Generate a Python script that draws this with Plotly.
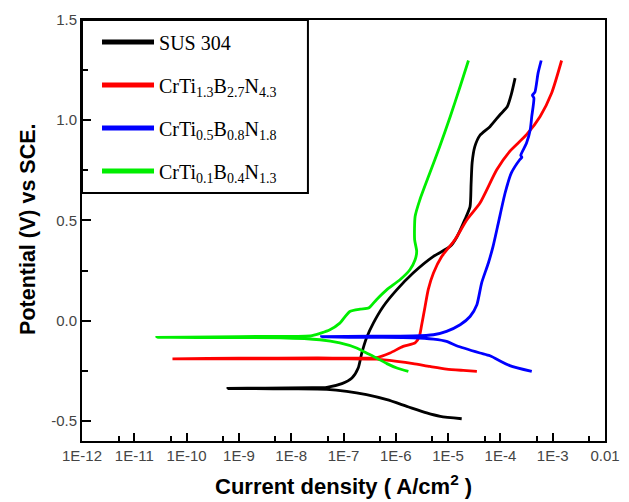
import plotly.graph_objects as go

# ---- data (current density A/cm2, potential V vs SCE), cathodic end -> Ecorr tip -> anodic end
sus_i = [1.82e-5, 7.08e-6, 3.89e-6, 1.62e-6, 6.76e-7, 2.75e-7, 1.15e-7, 4.79e-8, 1.0e-8, 2.0e-9, 6.17e-10,
         3.16e-9, 2.51e-8, 4.79e-8, 9.33e-8, 1.45e-7, 1.91e-7, 2.24e-7, 2.75e-7, 3.72e-7, 5.75e-7, 1.05e-6,
         2.14e-6, 5.25e-6, 1.10e-5, 1.48e-5, 2.09e-5, 2.63e-5, 2.75e-5, 2.88e-5, 3.24e-5, 4.07e-5, 6.31e-5,
         1.00e-4, 1.35e-4, 1.62e-4, 1.91e-4]
sus_v = [-0.489, -0.477, -0.460, -0.427, -0.394, -0.369, -0.352, -0.342, -0.340, -0.339, -0.338,
         -0.336, -0.334, -0.332, -0.314, -0.286, -0.236, -0.161, -0.086, -0.012, 0.071, 0.155,
         0.238, 0.321, 0.371, 0.419, 0.504, 0.569, 0.680, 0.788, 0.868, 0.925, 0.968,
         1.030, 1.067, 1.130, 1.210]

r_i = [3.55e-5, 1.95e-5, 9.33e-6, 4.47e-6, 2.14e-6, 1.05e-6, 4.27e-7, 1.0e-7, 1.0e-8, 6.31e-10, 5.37e-11,
       1.0e-9, 3.16e-8, 4.27e-7, 7.76e-7, 1.38e-6, 2.34e-6, 2.82e-6, 3.09e-6, 3.63e-6, 4.17e-6, 5.25e-6,
       7.59e-6, 1.35e-5, 2.29e-5, 4.07e-5, 8.51e-5, 1.51e-4, 3.16e-4, 5.75e-4, 9.55e-4, 1.48e-3]
r_v = [-0.253, -0.248, -0.241, -0.228, -0.214, -0.203, -0.192, -0.190, -0.190, -0.190, -0.190,
       -0.187, -0.186, -0.184, -0.161, -0.128, -0.111, -0.078, -0.028, 0.071, 0.155, 0.238,
       0.321, 0.404, 0.504, 0.587, 0.753, 0.845, 0.928, 1.019, 1.136, 1.298]

b_i = [3.98e-4, 1.51e-4, 6.31e-5, 4.07e-5, 1.45e-5, 9.33e-6, 5.25e-6, 2.14e-6, 3.16e-7, 3.80e-8,
       3.16e-7, 2.14e-6, 5.25e-6, 9.33e-6, 1.70e-5, 2.63e-5, 3.55e-5, 4.37e-5, 5.89e-5, 7.24e-5,
       9.12e-5, 1.23e-4, 1.62e-4, 2.34e-4, 2.57e-4, 2.45e-4, 3.16e-4, 3.72e-4, 3.98e-4, 4.37e-4,
       4.10e-4, 4.57e-4, 5.25e-4, 6.03e-4]
b_v = [-0.253, -0.224, -0.175, -0.161, -0.125, -0.103, -0.092, -0.085, -0.083, -0.080,
       -0.077, -0.076, -0.070, -0.053, -0.020, 0.021, 0.080, 0.188, 0.288, 0.371,
       0.487, 0.637, 0.737, 0.803, 0.815, 0.825, 0.886, 0.953, 1.019, 1.111,
       1.125, 1.140, 1.235, 1.298]

g_i = [1.74e-6, 1.05e-6, 6.76e-7, 4.27e-7, 2.75e-7, 1.78e-7, 8.51e-8, 3.55e-8, 6.31e-9, 3.16e-10, 2.69e-11,
       3.16e-10, 3.16e-9, 2.51e-8, 5.50e-8, 8.51e-8, 1.32e-7, 2.09e-7, 3.02e-7, 4.27e-7, 6.76e-7, 1.20e-6,
       1.86e-6, 2.34e-6, 2.51e-6, 2.29e-6, 2.34e-6, 2.88e-6, 4.47e-6, 6.92e-6, 1.10e-5, 1.70e-5, 2.45e-5]
g_v = [-0.253, -0.236, -0.214, -0.186, -0.161, -0.136, -0.111, -0.095, -0.085, -0.084, -0.083,
       -0.081, -0.078, -0.074, -0.045, -0.012, 0.046, 0.058, 0.063, 0.105, 0.155, 0.204,
       0.254, 0.304, 0.346, 0.404, 0.520, 0.603, 0.737, 0.869, 1.019, 1.168, 1.298]

names = ["SUS 304",
         "CrTi<sub>1.3</sub>B<sub>2.7</sub>N<sub>4.3</sub>",
         "CrTi<sub>0.5</sub>B<sub>0.8</sub>N<sub>1.8</sub>",
         "CrTi<sub>0.1</sub>B<sub>0.4</sub>N<sub>1.3</sub>"]
colors = ["#000000", "#ff0000", "#0000ff", "#00ee00"]
series = [(sus_i, sus_v), (r_i, r_v), (b_i, b_v), (g_i, g_v)]

x_tickvals = [1e-12, 1e-11, 1e-10, 1e-9, 1e-8, 1e-7, 1e-6, 1e-5, 1e-4, 1e-3, 1e-2]
x_ticktext = ["1E-12", "1E-11", "1E-10", "1E-9", "1E-8", "1E-7", "1E-6", "1E-5", "1E-4", "1E-3", "0.01"]
x_minor = [5e-12, 5e-11, 5e-10, 5e-9, 5e-8, 5e-7, 5e-6, 5e-5, 5e-4, 5e-3]
y_tickvals = [-0.5, 0.0, 0.5, 1.0, 1.5]
y_ticktext = ["-0.5", "0.0", "0.5", "1.0", "1.5"]
y_minor = [-0.25, 0.25, 0.75, 1.25]

fig = go.Figure()
for k, ((xi, yv), nm, col) in enumerate(zip(series, names, colors)):
    fig.add_trace(go.Scatter(x=xi, y=yv, mode="lines", name=nm, showlegend=False,
                             line=dict(color=col, width=2.8, shape="spline", smoothing=0.6)))
# legend entries (thicker key lines as in the reference)
for k, (nm, col) in enumerate(zip(names, colors)):
    fig.add_trace(go.Scatter(x=[None], y=[None], mode="lines", name=nm, legendgroup=str(k),
                             line=dict(color=col, width=5), showlegend=True))

fig.update_layout(
    width=629, height=502,
    margin=dict(l=82, r=24, t=20, b=61, autoexpand=False),
    paper_bgcolor="white", plot_bgcolor="white",
    showlegend=True,
    legend=dict(x=0.0287, y=0.994, xanchor="left", yanchor="top",
                bgcolor="rgba(0,0,0,0)", borderwidth=0,
                font=dict(family="Liberation Serif", size=20, color="black"),
                tracegroupgap=14, itemwidth=52, traceorder="grouped"),
    shapes=[dict(type="rect", xref="paper", yref="paper", x0=0, x1=0.432, y0=0.589, y1=1,
                 line=dict(color="black", width=2), fillcolor="rgba(0,0,0,0)", layer="above")],
    xaxis=dict(type="log", range=[-12, -2], tickmode="array", tickvals=x_tickvals, ticktext=x_ticktext,
               ticks="inside", ticklen=8, tickwidth=1.5, tickcolor="black",
               minor=dict(tickmode="array", tickvals=x_minor, ticks="inside", ticklen=5, tickwidth=1.5,
                          tickcolor="black", showgrid=False),
               showline=True, linecolor="black", linewidth=2, mirror=True, showgrid=False, zeroline=False,
               tickfont=dict(family="Liberation Sans", size=15, color="#444444"), automargin=False),
    yaxis=dict(range=[-0.6, 1.5], tickmode="array", tickvals=y_tickvals, ticktext=y_ticktext,
               ticks="inside", ticklen=9, tickwidth=1.5, tickcolor="black",
               minor=dict(tickmode="array", tickvals=y_minor, ticks="inside", ticklen=6, tickwidth=1.5,
                          tickcolor="black", showgrid=False),
               showline=True, linecolor="black", linewidth=2, mirror=True, showgrid=False, zeroline=False,
               tickfont=dict(family="Liberation Sans", size=15, color="#444444"), automargin=False),
    annotations=[
        dict(text="<b>Potential (V) vs SCE.</b>", textangle=-90, showarrow=False,
             xref="paper", yref="paper", x=-0.1033, y=0.5036, xanchor="center", yanchor="middle",
             font=dict(family="Liberation Sans", size=21.5, color="black")),
        dict(text="<b>Current density ( A/cm<sup>2</sup> )</b>", showarrow=False,
             xref="paper", yref="paper", x=0.5, y=-0.1045, xanchor="center", yanchor="middle",
             font=dict(family="Liberation Sans", size=22, color="black")),
    ],
)

fig.write_html("out.html")
